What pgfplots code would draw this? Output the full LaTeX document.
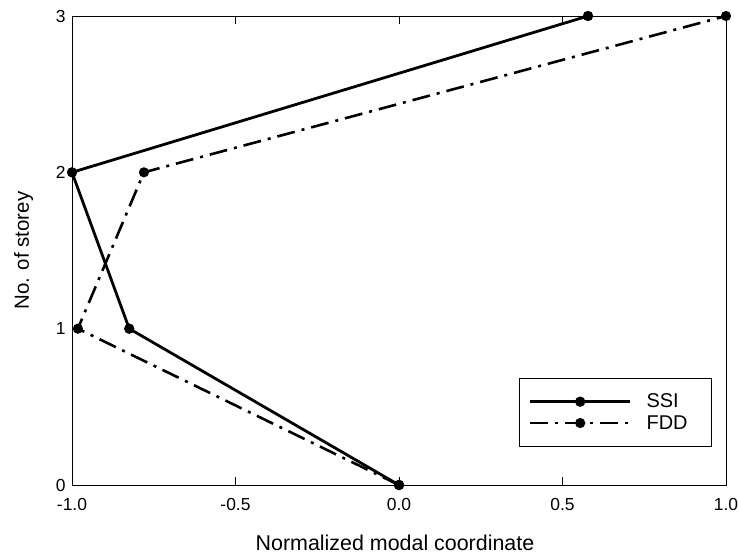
\documentclass[border=0pt]{standalone}
\usepackage{fontspec}
\setmainfont{Liberation Sans}
\usepackage{pgfplots}
\pgfplotsset{compat=1.18}

\begin{document}
\begin{tikzpicture}[x=1bp,y=1bp]
\begin{axis}[
	scale only axis,
	width=654bp, height=469bp,
	xmin=-1, xmax=1,
	ymin=0, ymax=3,
	xtick={-1,-0.5,0,0.5,1},
	ytick={0,1,2,3},
	xticklabels={-1.0,-0.5,0.0,0.5,1.0},
	yticklabels={0,1,2,3},
	tick align=inside,
	x tick style={black, line width=0.8bp},
	major tick length=8bp,
	y tick style={draw=none},
	axis line style={line width=0.8bp},
	ticklabel style={font=\fontsize{17.5}{20}\selectfont},
	xticklabel style={yshift=-10bp},
	yticklabel style={xshift=-3bp},
	xlabel={Normalized modal coordinate},
	ylabel={No. of storey},
	xlabel style={font=\fontsize{21.5}{24}\selectfont,
		at={(axis description cs:0.5,0)}, anchor=base, yshift=-65bp, xshift=-4bp},
	ylabel style={font=\fontsize{20.5}{24}\selectfont,
		at={(axis description cs:0,0.5)}, anchor=base, yshift=43bp},
	legend style={
		at={(0.9786,0.081)}, anchor=south east,
		draw=black, line width=0.8bp,
		font=\fontsize{20}{22}\selectfont,
		inner xsep=9bp, inner ysep=13bp,
		nodes={inner sep=3bp},
		row sep=0bp,
		cells={anchor=west},
	},
	legend image code/.code={
		\draw[mark repeat=2, mark phase=2, #1]
			plot coordinates {(0bp,0bp) (50bp,0bp) (100bp,0bp)};
	},
	clip=false,
]

% SSI
\addplot[black, line width=2.8bp, mark=*, mark size=3.7bp]
	coordinates {
	(0.00, 0)
	(-0.825, 1)
	(-1.00, 2)
	(0.578, 3)
	};
\addlegendentry{\hspace{12bp}\makebox[53bp][l]{SSI}}

% FDD
\addplot[black, line width=2.6bp, mark=*, mark size=3.7bp,
	dash pattern=on 18bp off 7bp on 3bp off 7bp,
	mark options={solid}]
	coordinates {
	(0.00, 0)
	(-0.982, 1)
	(-0.78, 2)
	(1.00, 3)
	};
\addlegendentry{\hspace{12bp}\makebox[53bp][l]{FDD}}

\end{axis}
\pgfresetboundingbox
\path[use as bounding box] (current axis.south west) ++(-72bp,-68bp) rectangle ++(739bp,553bp);
\end{tikzpicture}
\end{document}
